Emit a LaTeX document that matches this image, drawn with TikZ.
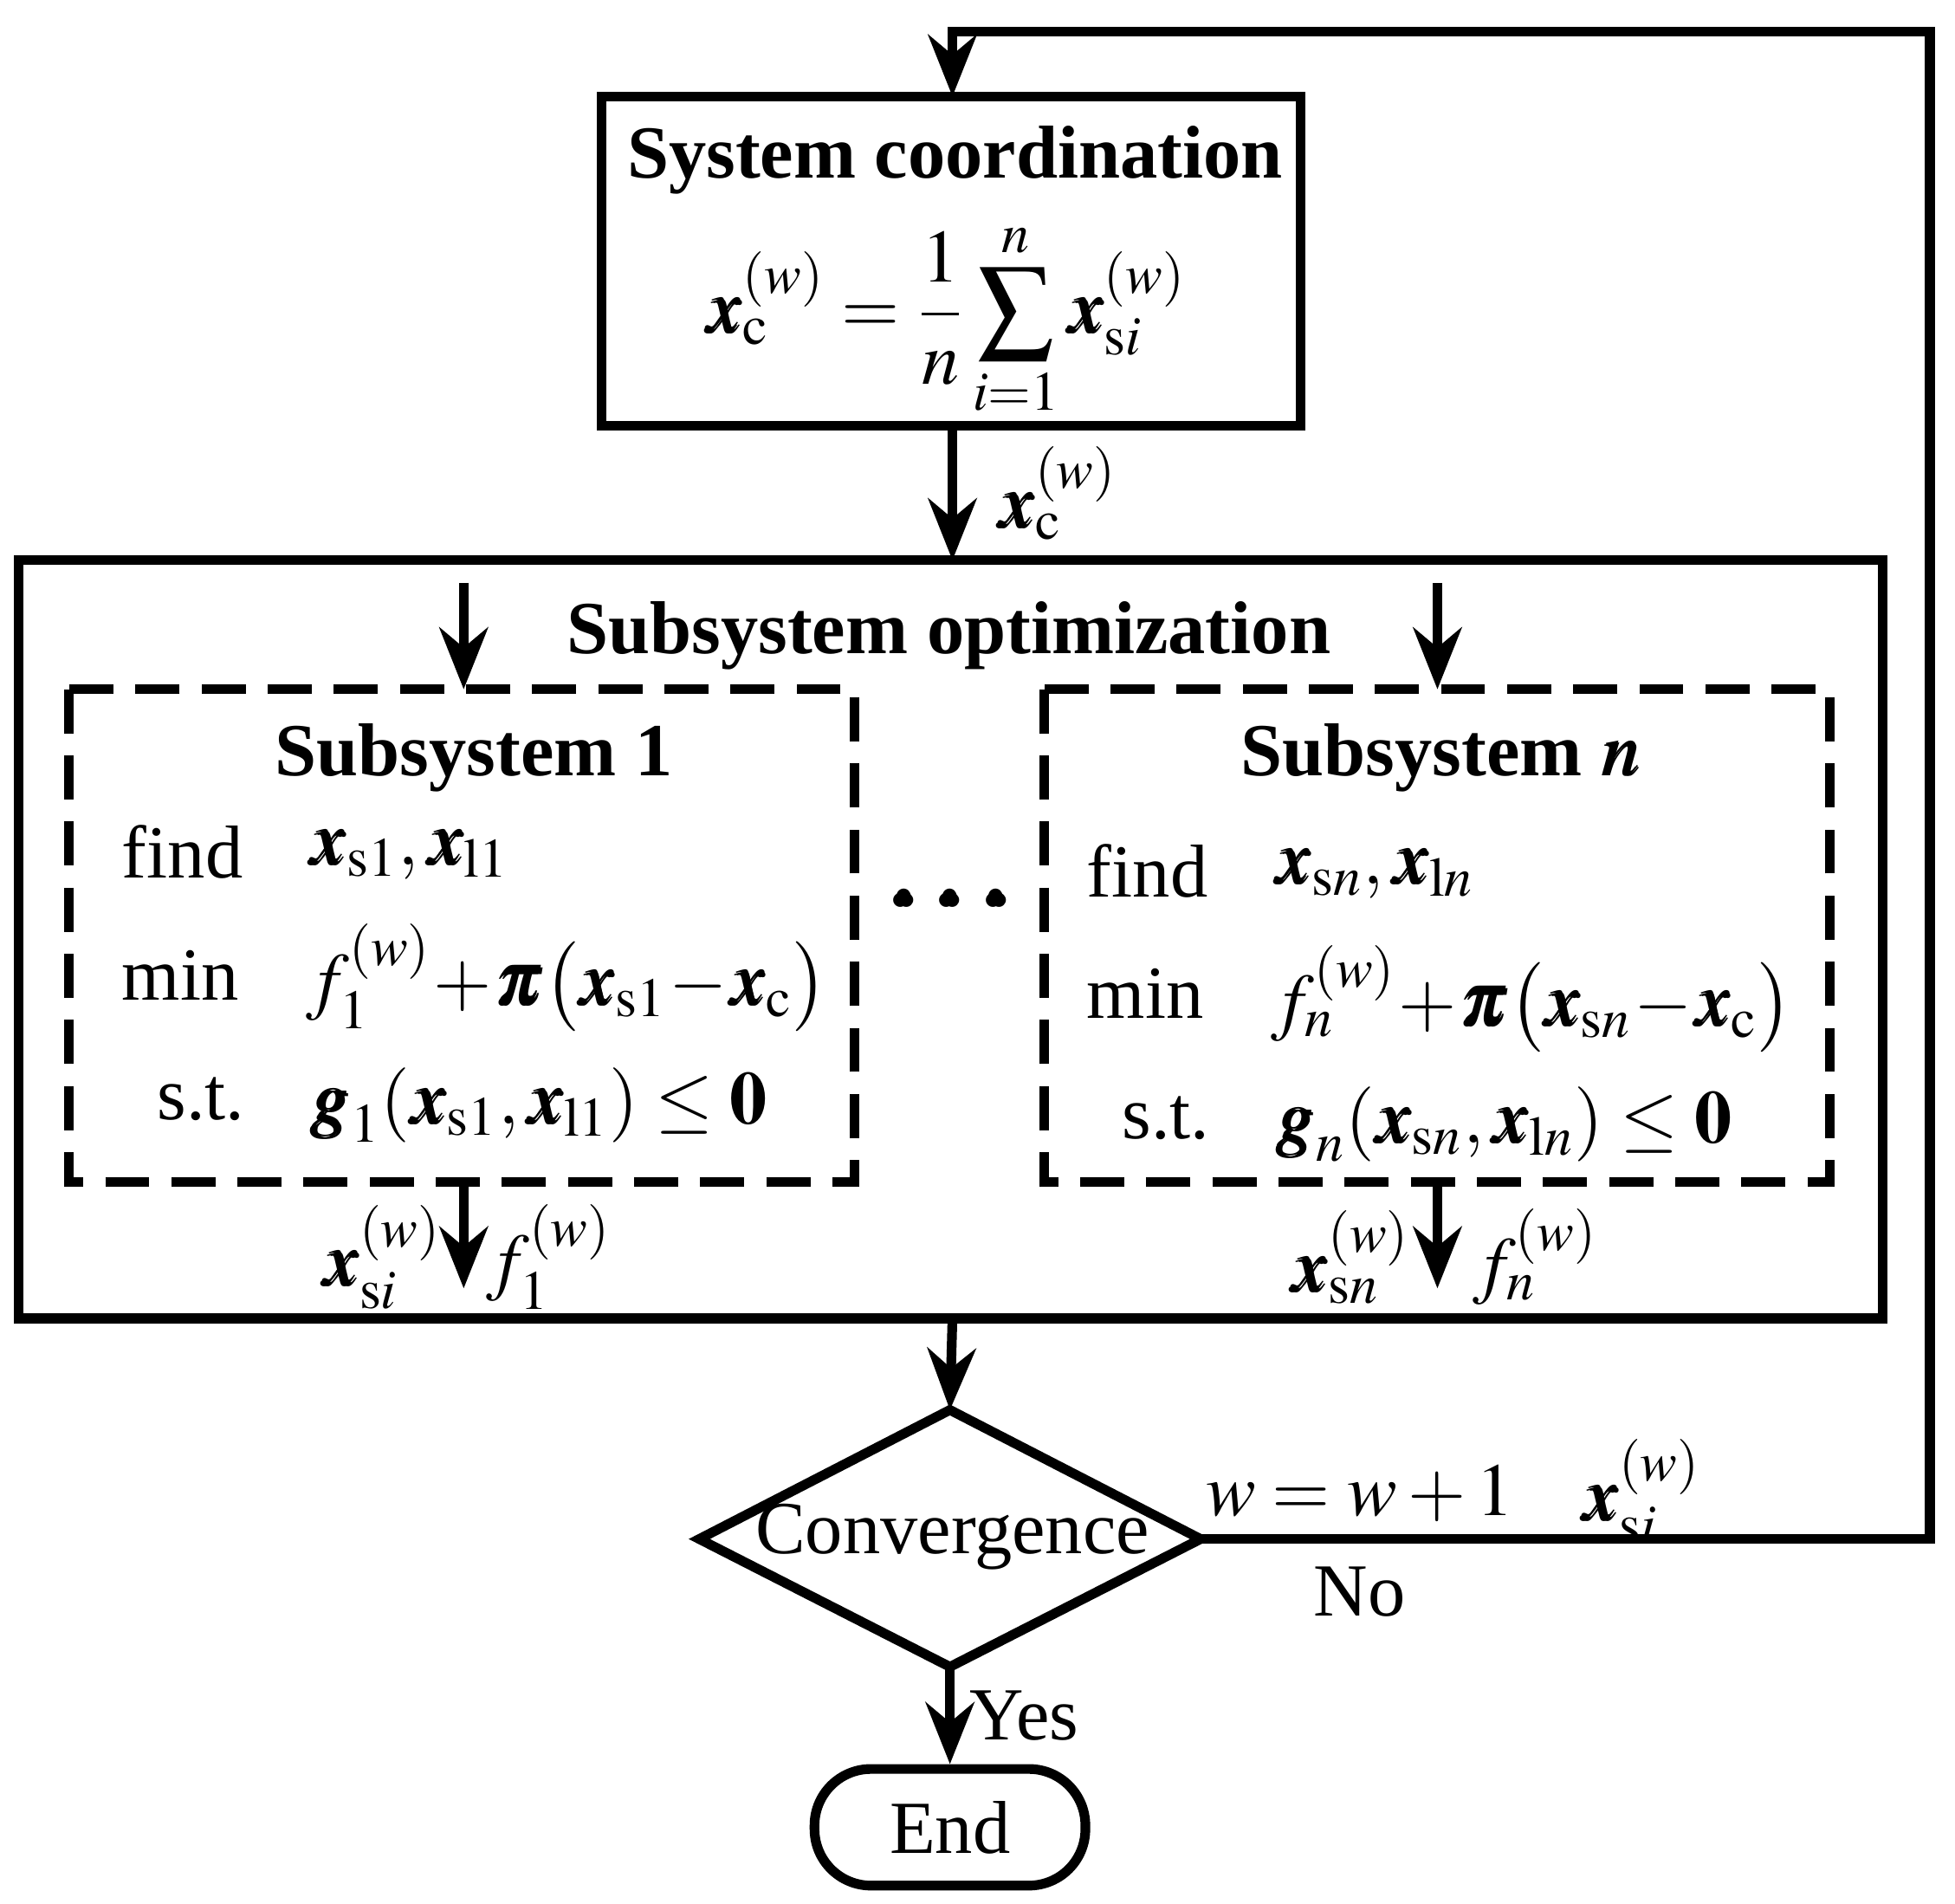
\documentclass[tikz,border=0pt]{standalone}
\usepackage{amsmath}
\usepackage{mathptmx}
\usepackage{bm}
\usepackage{fontspec}
\setmainfont{Liberation Serif}
\usetikzlibrary{shapes.geometric,arrows.meta}
\begin{document}
\begin{tikzpicture}[x=0.01cm,y=-0.01cm,
  ln/.style={line width=2.2pt},
  arr/.style={ln,-{Stealth[length=14pt,width=11pt]}},
  dsh/.style={line width=2.2pt,dash pattern=on 10pt off 5pt},
  big/.style={font=\fontsize{17}{20}\selectfont},
  bft/.style={font=\bfseries\fontsize{17}{20}\selectfont},
  txt/.style={font=\fontsize{17}{20}\selectfont}]
\useasboundingbox (0,0) rectangle (1560,1519);
% system coordination
\draw[ln] (480,77) rectangle (1038,340);
\coordinate (sctop) at (760,77); \coordinate (scbot) at (760,340);
\node[bft] (sct) at (762,128) {System coordination};
\node[big] (eq) at (755,255) {$\bm{x}_{\mathrm{c}}^{(w)}=\dfrac{1}{n}\displaystyle\sum_{i=1}^{n}\bm{x}_{\mathrm{s}i}^{(w)}$};
% subsystem optimization
\draw[ln] (15,447) rectangle (1502,1052);
\coordinate (bigtop) at (760,447); \coordinate (bigbot) at (760,1052);
\draw[arr] (scbot) -- (bigtop) node[midway,right=6pt,big] {$\bm{x}_{\mathrm{c}}^{(w)}$};
\node[bft] (sot) at (757,507) {Subsystem optimization};
\draw[dsh] (55,550) rectangle (682,943);
\draw[dsh] (833,550) rectangle (1460,943);
\coordinate (a1s) at (370,465); \coordinate (a1e) at (370,550);
\coordinate (a2s) at (1147,465); \coordinate (a2e) at (1147,550);
\draw[arr] (a1s) -- (a1e); \draw[arr] (a2s) -- (a2e);
\node[bft] (s1t) at (378,605) {Subsystem 1};
\node[bft] (snt) at (1150,605) {Subsystem $\bm{n}$};
\node[txt,anchor=west] (f1) at (85,680) {find};
\node[txt,anchor=west] (m1) at (85,778) {min};
\node[txt,anchor=west] (t1) at (113,877) {s.t.};
\node[big,anchor=west] (f1e) at (235,682) {$\bm{x}_{\mathrm{s}1},\bm{x}_{\mathrm{l}1}$};
\node[big,anchor=west] (m1e) at (232,780) {$f_1^{(w)}\!+\!\bm{\pi}\big(\bm{x}_{\mathrm{s}1}\!-\!\bm{x}_{\mathrm{c}}\big)$};
\node[big,anchor=west] (t1e) at (235,882) {$\bm{g}_1(\bm{x}_{\mathrm{s}1},\bm{x}_{\mathrm{l}1})\le\mathbf{0}$};
\node[txt,anchor=west] (fn) at (855,695) {find};
\node[txt,anchor=west] (mn) at (855,793) {min};
\node[txt,anchor=west] (tn) at (883,892) {s.t.};
\node[big,anchor=west] (fne) at (1005,697) {$\bm{x}_{\mathrm{s}n},\bm{x}_{\mathrm{l}n}$};
\node[big,anchor=west] (mne) at (1002,797) {$f_n^{(w)}\!+\!\bm{\pi}\big(\bm{x}_{\mathrm{s}n}\!-\!\bm{x}_{\mathrm{c}}\big)$};
\node[big,anchor=west] (tne) at (1005,897) {$\bm{g}_n(\bm{x}_{\mathrm{s}n},\bm{x}_{\mathrm{l}n})\le\mathbf{0}$};
\node[font=\bfseries\fontsize{30}{30}\selectfont,inner sep=0] (dots) at (758,720) {$\bm{\cdot}\!\bm{\cdot}\!\bm{\cdot}$};
\coordinate (b1s) at (370,943); \coordinate (b1e) at (370,1028);
\coordinate (b2s) at (1147,943); \coordinate (b2e) at (1147,1028);
\draw[arr] (b1s) -- (b1e); \draw[arr] (b2s) -- (b2e);
\node[big] (l1a) at (305,1003) {$\bm{x}_{\mathrm{s}i}^{(w)}$};
\node[big] (l1b) at (438,1003) {$f_1^{(w)}$};
\node[big] (lna) at (1078,1003) {$\bm{x}_{\mathrm{s}n}^{(w)}$};
\node[big] (lnb) at (1225,1003) {$f_n^{(w)}$};
% convergence diamond
\coordinate (cvN) at (758,1125); \coordinate (cvS) at (758,1330);
\coordinate (cvW) at (558,1228); \coordinate (cvE) at (958,1228);
\draw[ln,line join=miter] (cvN) -- (cvE) -- (cvS) -- (cvW) -- cycle;
\node[txt] (cv) at (760,1226) {Convergence};
\draw[arr] (bigbot) -- (cvN);
\node[ln,draw,rounded corners=0.45cm,minimum width=2.16cm,minimum height=0.93cm,txt] (end) at (758,1458) {End};
\draw[arr] (cvS) -- (end.north) node[midway,right=0pt,txt] {Yes};
\coordinate (c1) at (1540,1228); \coordinate (c2) at (1540,25); \coordinate (c3) at (760,25);
\draw[arr] (cvE) -- (c1) -- (c2) -- (c3) -- (sctop);
\node[big] (ww) at (1085,1192) {$w=w+1$};
\node[big] (xsi) at (1310,1190) {$\bm{x}_{\mathrm{s}i}^{(w)}$};
\node[txt] (no) at (1085,1270) {No};
\end{tikzpicture}
\end{document}
